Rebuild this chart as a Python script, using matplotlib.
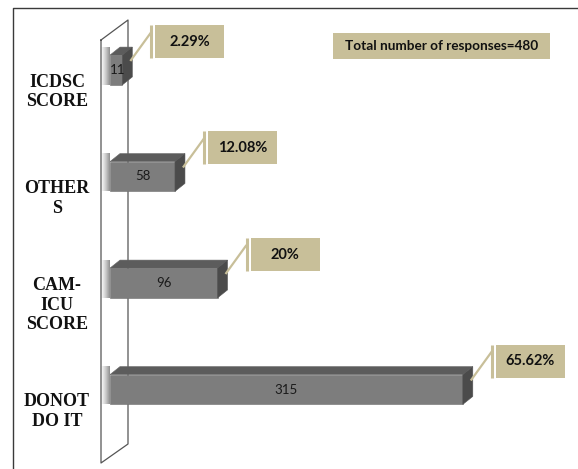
import matplotlib
matplotlib.use("Agg")
import matplotlib.pyplot as plt
import numpy as np
from matplotlib.patches import Polygon, Rectangle
from matplotlib.lines import Line2D
from matplotlib.transforms import IdentityTransform

# ---- data ----
categories = ["ICDSC\nSCORE", "OTHER\nS", "CAM-\nICU\nSCORE", "DONOT\nDO IT"]
counts = [11, 58, 96, 315]
percents = ["2.29%", "12.08%", "20%", "65.62%"]
total_label = "Total number of responses=480"

W, H = 578, 469
fig = plt.figure(figsize=(W / 100, H / 100), dpi=100)
fig.patch.set_facecolor("white")

# axes: x value 0 at px 110, 1.12 px per unit; categories centered at 70 + 106.5*i
x0_px, k = 110, 1.12
xmax = 400
ytop_px, ybot_px = 16.75, 442.75
ax = fig.add_axes([x0_px / W, (H - ybot_px) / H, xmax * k / W, (ybot_px - ytop_px) / H])
ax.set_xlim(0, xmax)
ax.set_ylim(3.5, -0.5)
ax.axis("off")

TAN = "#C8BF99"
FRONT = "#7d7d7d"
TOP = "#5c5c5c"
SIDE = "#4b4b4b"

idx = np.arange(len(counts))
h = 0.28
ddx = 10 / k
ddy = 8 / 106.5

ID = IdentityTransform()


def px(xi, yi):
    """image pixel (origin top-left) -> display coords"""
    return xi, H - yi


def add_px_line(xs, ys, **kw):
    pts = [px(a, b) for a, b in zip(xs, ys)]
    ln = Line2D([p[0] for p in pts], [p[1] for p in pts], transform=ID, clip_on=False, **kw)
    ax.add_line(ln)


# outer frame
add_px_line([13, 13, 577], [469, 8, 8], color="#3a3a3a", lw=1.0, zorder=0)

# wall (3D vertical plane)
add_px_line([101, 101, 128, 128, 101], [40, 463, 444, 20, 40], color="#555555", lw=0.9, zorder=0.5)

# shadow of bars on the wall
grad = np.linspace(0, 1, 50).reshape(1, -1)
for i in idx:
    im = ax.imshow(np.dstack([np.full((1, 50), 0.45)] * 3 + [grad ** 1.4 * 0.8]),
                   extent=(-10 / k, 0, i + h / 2, i - h / 2 - ddy), aspect="auto",
                   interpolation="bilinear", zorder=1)
    im.set_clip_on(False)
ax.set_xlim(0, xmax)
ax.set_ylim(3.5, -0.5)

# 3D bars: front face via barh, top and side faces as polygons
ax.barh(idx, counts, height=h, left=0, color=FRONT, edgecolor="#6f6f6f", lw=0.4, zorder=3)
for i, v in zip(idx, counts):
    yt = i - h / 2
    yb = i + h / 2
    top = Polygon([(0, yt), (v, yt), (v + ddx, yt - ddy), (ddx, yt - ddy)],
                  closed=True, fc=TOP, ec="#666666", lw=0.4, zorder=3)
    side = Polygon([(v, yt), (v + ddx, yt - ddy), (v + ddx, yb - ddy), (v, yb)],
                   closed=True, fc=SIDE, ec="#555555", lw=0.4, zorder=3)
    ax.add_patch(top)
    ax.add_patch(side)
    ax.text(v / 2 if v > 30 else v / 2 + 1, i, f"{v}", ha="center", va="center",
            fontsize=9.5, family="Lato", color="#1a1a1a", zorder=4)

# callouts
for i, v, p in zip(idx, counts, percents):
    ex, ey = ax.transData.transform((v, i))
    E = ex
    c = H - ey  # image pixel y of bar center
    # leader line
    add_px_line([E + 8, E + 29], [c - 9, c - 38], color=TAN, lw=1.6, zorder=5,
                solid_capstyle="butt")
    # bracket
    add_px_line([E + 29, E + 29], [c - 45, c - 12], color=TAN, lw=2.2, zorder=5,
                solid_capstyle="butt")
    # box
    bx, by = px(E + 33, c - 12)
    ax.add_patch(Rectangle((bx, by), 69, 33, transform=ID, fc=TAN, ec="none",
                           clip_on=False, zorder=5))
    tx, ty = px(E + 33 + 34.5, c - 28.5)
    ax.text(tx, ty, p, transform=ID, ha="center", va="center", fontsize=10.5,
            fontweight="bold", family="Lato", color="#111111", zorder=6, clip_on=False)

# category labels
for i, lab in zip(idx, categories):
    _, ey = ax.transData.transform((0, i))
    fig.text(57 / W, (ey - 22) / H, lab, ha="center", va="center", fontsize=13,
             fontweight="bold", family="Liberation Serif", color="#111111",
             linespacing=1.2)

# total box
bx, by = px(333, 59)
ax.add_patch(Rectangle((bx, by), 217, 26, transform=ID, fc=TAN, ec="none",
                       clip_on=False, zorder=5))
tx, ty = px(441.5, 46)
ax.text(tx, ty, total_label, transform=ID, ha="center", va="center", fontsize=9.8,
        fontweight="bold", family="Lato", color="#111111", zorder=6, clip_on=False)

fig.savefig("out.png", dpi=100)
